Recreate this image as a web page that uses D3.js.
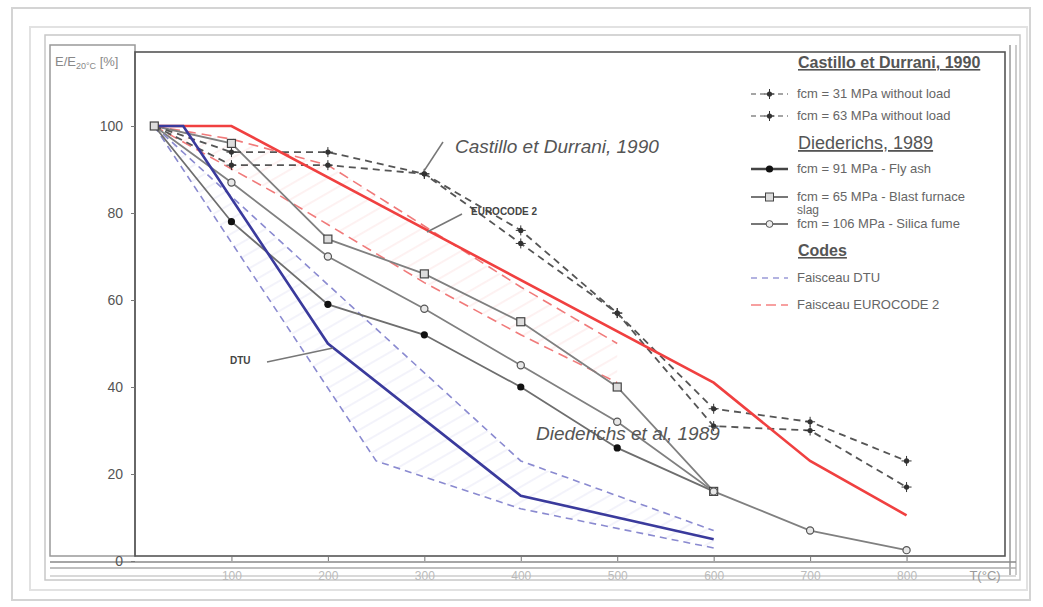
<!DOCTYPE html>
<html><head><meta charset="utf-8">
<script src="https://cdn.jsdelivr.net/npm/d3@7"></script>
<style>
html,body{margin:0;padding:0;background:#fff;}
svg{display:block;font-family:"Liberation Sans",Arial,sans-serif;}
</style></head>
<body>
<svg id="c" width="1043" height="607"></svg>
<script>
// ---------------- data ----------------
const temps = [20,100,200,300,400,500,600,700,800];
const castillo31 = [100,94,94,89,76,57,35,32,23];
const castillo63 = [100,91,91,89,73,57,31,30,17];
const diedT = [20,100,200,300,400,500,600];
const flyAsh = [100,78,59,52,40,26,16];
const slag = [100,96,74,66,55,40,16];
const silicaT = [20,100,200,300,400,500,600,700,800];
const silica = [100,87,70,58,45,32,16,7,2.5];
const ec2T = [20,100,600,700,800];
const ec2V = [100,100,41,23,10.5];
const dtuT = [20,50,200,400,600];
const dtuV = [100,100,50,15,5];
const dtuUpT = [20,400,600];
const dtuUpV = [100,23,7];
const dtuLoT = [20,250,400,600];
const dtuLoV = [100,23,12,3];
const ecUpT = [20,100,200,250,400,500];
const ecUpV = [100,97,91,84,63,50];
const ecLoT = [20,150,300,400,500];
const ecLoV = [100,84,64,52,41];
const yTicks = [0,20,40,60,80,100];
const xTicks = [100,200,300,400,500,600,700,800];

// ---------------- setup ----------------
const svg = d3.select("#c");
const x = d3.scaleLinear().domain([0,900]).range([135,1003]);
const y = d3.scaleLinear().domain([0,100]).range([561,126]);
const zip = (a,b)=>a.map((v,i)=>[v,b[i]]);
const line = d3.line().x(d=>x(d[0])).y(d=>y(d[1]));

// page frames
svg.append("rect").attr("x",12).attr("y",8).attr("width",1018).attr("height",592)
  .attr("fill","#fff").attr("stroke","#d4d4d4").attr("stroke-width",2);
svg.append("rect").attr("x",30).attr("y",27).attr("width",997).attr("height",563)
  .attr("fill","none").attr("stroke","#e2e2e2").attr("stroke-width",2);
svg.append("rect").attr("x",45).attr("y",35).attr("width",975).attr("height",545)
  .attr("fill","none").attr("stroke","#c8c8c8").attr("stroke-width",1.5);
svg.append("rect").attr("x",50).attr("y",45).attr("width",85).attr("height",511)
  .attr("fill","none").attr("stroke","#999").attr("stroke-width",1.5);
svg.append("rect").attr("x",135).attr("y",52).attr("width",870).attr("height",504)
  .attr("fill","none").attr("stroke","#555").attr("stroke-width",1.6);
[[1010,"#999"],[1016,"#bbb"]].forEach(([xx,c])=>svg.append("line").attr("x1",xx).attr("x2",xx)
  .attr("y1",45).attr("y2",575).attr("stroke",c).attr("stroke-width",1.5));
[[562,"#888"],[568,"#aaa"],[576,"#ccc"]].forEach(([yy,c])=>svg.append("line").attr("x1",50).attr("x2",1016)
  .attr("y1",yy).attr("y2",yy).attr("stroke",c).attr("stroke-width",1.5));

// patterns
const defs = svg.append("defs");
function hatch(id,color){
  const p = defs.append("pattern").attr("id",id).attr("patternUnits","userSpaceOnUse")
    .attr("width",13).attr("height",13).attr("patternTransform","rotate(-30)");
  p.append("line").attr("x1",0).attr("x2",13).attr("y1",6).attr("y2",6)
    .attr("stroke",color).attr("stroke-width",0.7);
}
hatch("hb","#dcdcf2");
hatch("hr","#fbd8d8");
function band(upT,upV,loT,loV,fill){
  const pts = zip(upT,upV).concat(zip(loT,loV).reverse());
  svg.append("path").attr("d",line(pts)+"Z").attr("fill",fill).attr("stroke","none");
}
band(dtuUpT,dtuUpV,dtuLoT,dtuLoV,"url(#hb)");
band(ecUpT,ecUpV,ecLoT,ecLoV,"url(#hr)");

// y axis ticks/labels
const yAxis = d3.axisLeft(y).tickValues(yTicks).tickSize(4).tickPadding(8);
const ya = svg.append("g").attr("transform","translate(135,0)").call(yAxis);
ya.select(".domain").remove();
ya.selectAll("line").attr("stroke","#777");
ya.selectAll("text").attr("font-size",14).attr("fill","#555").attr("font-family","Liberation Sans, Arial");

// x axis ticks/labels
const xAxis = d3.axisBottom(x).tickValues(xTicks).tickSize(5).tickPadding(10);
const xa = svg.append("g").attr("transform","translate(0,556)").call(xAxis);
xa.select(".domain").remove();
xa.selectAll("line").attr("stroke","#777");
xa.selectAll("text").attr("font-size",12).attr("fill","#bbb").attr("font-family","Liberation Sans, Arial");
svg.append("text").attr("x",985).attr("y",580).attr("text-anchor","middle")
  .attr("font-size",13).attr("fill","#999").text("T(°C)");
const yl = svg.append("text").attr("x",55).attr("y",66).attr("font-size",13).attr("fill","#888");
yl.append("tspan").text("E/E");
yl.append("tspan").attr("font-size",9).attr("dy",3).text("20°C");
yl.append("tspan").attr("dy",-3).text(" [%]");

// code bands dashed
const drawLine=(data,col,w,dash)=>svg.append("path").attr("d",line(data)).attr("fill","none")
  .attr("stroke",col).attr("stroke-width",w).attr("stroke-dasharray",dash||null);
drawLine(zip(dtuUpT,dtuUpV),"#8a8ad0",1.6,"7,5");
drawLine(zip(dtuLoT,dtuLoV),"#8a8ad0",1.6,"7,5");
drawLine(zip(ecUpT,ecUpV),"#f07a7a",1.6,"10,6");
drawLine(zip(ecLoT,ecLoV),"#f07a7a",1.6,"10,6");

// Diederichs grey lines
drawLine(zip(diedT,flyAsh),"#6e6e6e",1.8);
drawLine(zip(diedT,slag),"#808080",1.8);
drawLine(zip(silicaT,silica),"#808080",1.8);
// Castillo dashed
drawLine(zip(temps,castillo31),"#555",1.8,"7,5");
drawLine(zip(temps,castillo63),"#555",1.8,"7,5");

// codes solid
drawLine(zip(ec2T,ec2V),"#f04040",2.6);
drawLine(zip(dtuT,dtuV),"#3a3a9c",2.6);

// markers
function crossMarker(g,cx,cy){
  g.append("circle").attr("cx",cx).attr("cy",cy).attr("r",2.6).attr("fill","#333");
  g.append("line").attr("x1",cx-5).attr("x2",cx+5).attr("y1",cy).attr("y2",cy).attr("stroke","#333").attr("stroke-width",1);
  g.append("line").attr("x1",cx).attr("x2",cx).attr("y1",cy-5).attr("y2",cy+5).attr("stroke","#333").attr("stroke-width",1);
}
const mk = svg.append("g");
zip(temps,castillo31).slice(1).forEach(d=>crossMarker(mk,x(d[0]),y(d[1])));
zip(temps,castillo63).slice(1).forEach(d=>crossMarker(mk,x(d[0]),y(d[1])));
mk.selectAll(".fa").data(zip(diedT,flyAsh).slice(1)).join("circle")
  .attr("cx",d=>x(d[0])).attr("cy",d=>y(d[1])).attr("r",3.6).attr("fill","#111");
mk.selectAll(".sl").data(zip(diedT,slag)).join("rect")
  .attr("x",d=>x(d[0])-4).attr("y",d=>y(d[1])-4).attr("width",8).attr("height",8)
  .attr("fill","#ddd").attr("stroke","#444").attr("stroke-width",1.2);
mk.selectAll(".si").data(zip(silicaT,silica).slice(1)).join("circle")
  .attr("cx",d=>x(d[0])).attr("cy",d=>y(d[1])).attr("r",3.6)
  .attr("fill","#e8e8e8").attr("stroke","#555").attr("stroke-width",1.2);

// annotations
const ann = svg.append("g").attr("fill","#444");
ann.append("text").attr("x",455).attr("y",153).attr("font-size",19).attr("font-style","italic")
  .attr("fill","#555").text("Castillo et Durrani, 1990");
ann.append("line").attr("x1",443).attr("y1",142).attr("x2",424).attr("y2",171).attr("stroke","#777").attr("stroke-width",1.5);
ann.append("text").attr("x",471).attr("y",215).attr("font-size",10).attr("font-weight","bold")
  .attr("fill","#444").text("EUROCODE 2");
ann.append("line").attr("x1",462).attr("y1",214).attr("x2",427).attr("y2",232).attr("stroke","#777").attr("stroke-width",1.5);
ann.append("text").attr("x",230).attr("y",364).attr("font-size",10).attr("font-weight","bold")
  .attr("fill","#444").text("DTU");
ann.append("line").attr("x1",267).attr("y1",362).attr("x2",333).attr("y2",348).attr("stroke","#777").attr("stroke-width",1.5);
ann.append("text").attr("x",536).attr("y",440).attr("font-size",19).attr("font-style","italic")
  .attr("fill","#555").text("Diederichs et al, 1989");

// legend
const lg = svg.append("g");
const lx0 = 751, lx1 = 788, tx = 797;
function title(t,yy,size,x0,weight){
  lg.append("text").attr("x",x0).attr("y",yy).attr("font-size",size).attr("font-weight",weight||"bold")
    .attr("fill","#555").attr("text-decoration","underline").text(t);
}
function item(t,yy,col,dash,w,mark){
  lg.append("line").attr("x1",lx0).attr("x2",lx1).attr("y1",yy).attr("y2",yy)
    .attr("stroke",col).attr("stroke-width",w).attr("stroke-dasharray",dash||null);
  const cx=(lx0+lx1)/2;
  if(mark==="cross") crossMarker(lg,cx,yy);
  if(mark==="fill") lg.append("circle").attr("cx",cx).attr("cy",yy).attr("r",3.6).attr("fill","#111");
  if(mark==="sq") lg.append("rect").attr("x",cx-4).attr("y",yy-4).attr("width",8).attr("height",8).attr("fill","#ddd").attr("stroke","#444");
  if(mark==="circ") lg.append("circle").attr("cx",cx).attr("cy",yy).attr("r",3.4).attr("fill","#eee").attr("stroke","#555");
  lg.append("text").attr("x",tx).attr("y",yy+4).attr("font-size",13).attr("fill","#666").text(t);
}
title("Castillo et Durrani, 1990",68,16,798);
item("fcm = 31 MPa without load",94,"#888","5,4",1.6,"cross");
item("fcm = 63 MPa without load",116,"#888","5,4",1.6,"cross");
title("Diederichs, 1989",149,18,798,"normal");
item("fcm = 91 MPa - Fly ash",169,"#444",null,2.4,"fill");
item("fcm = 65 MPa - Blast furnace",197,"#777",null,2.2,"sq");
lg.append("text").attr("x",tx).attr("y",214).attr("font-size",12).attr("fill","#666").text("slag");
item("fcm = 106 MPa - Silica fume",224,"#777",null,1.8,"circ");
title("Codes",256,16,798);
item("Faisceau DTU",278,"#9a9ad8","6,5",1.6);
item("Faisceau EUROCODE 2",305,"#f7a0a0","10,5",1.8);
</script>
</body></html>
